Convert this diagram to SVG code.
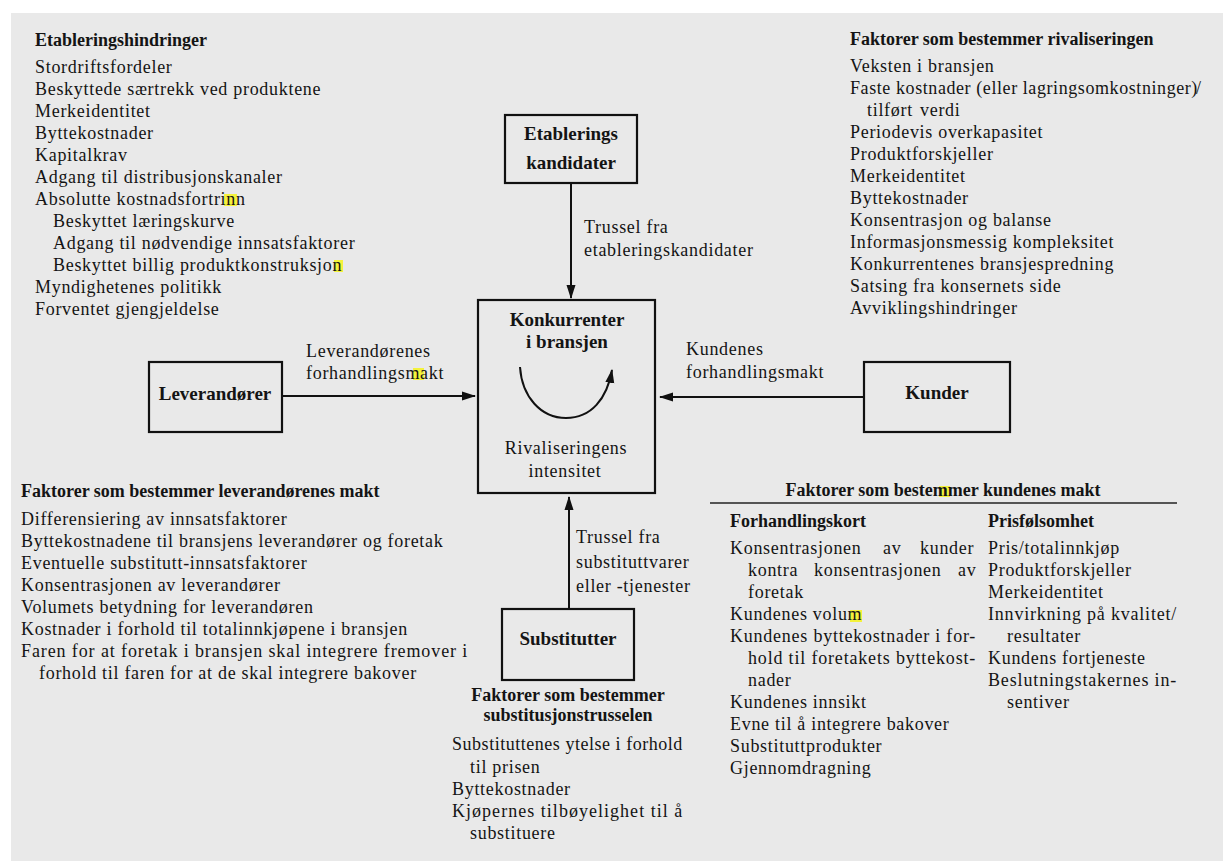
<svg xmlns="http://www.w3.org/2000/svg" width="1223" height="861" viewBox="0 0 1223 861">
  <style>
    text { font-family: "Liberation Serif", "Times New Roman", serif; fill: #141414; }
    .b { font-size: 18px; font-weight: bold; }
    .bx { font-size: 19px; font-weight: bold; text-anchor: middle; }
    .t { font-size: 18px; letter-spacing: 0.7px; }
    .c { text-anchor: middle; }
    .nl { font-variant-ligatures: none; font-kerning: none; }
    .box { fill: none; stroke: #111; stroke-width: 2.2; }
    .edge { fill: none; stroke: #111; stroke-width: 2; }
    .hl { fill: #f4f23c; }
  </style>
  <defs>
    <marker id="head" markerUnits="userSpaceOnUse" markerWidth="14" markerHeight="10" refX="13" refY="5" orient="auto">
      <path d="M0,0.5 L14,5 L0,9.5 z" fill="#111"/>
    </marker>
  </defs>

  <!-- page -->
  <rect x="0" y="0" width="1223" height="861" fill="#ffffff"/>
  <rect x="11" y="13" width="1212" height="848" fill="#e9e9e9"/>

  <!-- highlighted letters -->
  <rect class="hl" x="224" y="194" width="13" height="12"/>
  <rect class="hl" x="334" y="260" width="9" height="12"/>
  <rect class="hl" x="413" y="368" width="11" height="12"/>
  <rect class="hl" x="939" y="486" width="11" height="11"/>
  <rect class="hl" x="850" y="610" width="12" height="12"/>

  <!-- connectors -->
  <g id="connectors">
    <line class="edge" x1="571" y1="183" x2="571" y2="298" marker-end="url(#head)"/>
    <line class="edge" x1="282" y1="396" x2="475" y2="396" marker-end="url(#head)"/>
    <line class="edge" x1="864" y1="397" x2="660" y2="397" marker-end="url(#head)"/>
    <line class="edge" x1="569" y1="609" x2="569" y2="497" marker-end="url(#head)"/>
    <path class="edge" d="M520,367 C522,397 541,418 566,418 C591,418 607,399 612,370" marker-end="url(#head)"/>
  </g>

  <!-- new entrants -->
  <g id="etablerings">
    <rect class="box" x="505" y="115" width="132" height="68"/>
    <text class="bx" x="571" y="140">Etablerings</text>
    <text class="bx" x="571" y="169">kandidater</text>
  </g>
  <g id="label-etablering">
    <text class="t" x="584" y="233">Trussel fra</text>
    <text class="t" x="584" y="256">etableringskandidater</text>
  </g>

  <!-- industry competitors -->
  <g id="konkurrenter">
    <rect class="box" x="478" y="300" width="177" height="193"/>
    <text class="bx" x="567" y="326">Konkurrenter</text>
    <text class="bx" x="567" y="348">i bransjen</text>
    <text class="t c" x="566" y="454">Rivaliseringens</text>
    <text class="t c" x="565" y="477">intensitet</text>
  </g>

  <!-- suppliers -->
  <g id="leverandorer">
    <rect class="box" x="149" y="362" width="133" height="70"/>
    <text class="bx" x="215" y="400">Leverandører</text>
  </g>
  <g id="label-leverandorer">
    <text class="t" x="306" y="357">Leverandørenes</text>
    <text class="t" x="306" y="379">forhandlingsmakt</text>
  </g>

  <!-- buyers -->
  <g id="kunder">
    <rect class="box" x="864" y="362" width="146" height="70"/>
    <text class="bx" x="937" y="399">Kunder</text>
  </g>
  <g id="label-kunder">
    <text class="t" x="686" y="355">Kundenes</text>
    <text class="t" x="686" y="378">forhandlingsmakt</text>
  </g>

  <!-- substitutes -->
  <g id="substitutter">
    <rect class="box" x="502" y="609" width="132" height="71"/>
    <text class="bx" x="568" y="645">Substitutter</text>
  </g>
  <g id="label-substitutter">
    <text class="t" x="576" y="543">Trussel fra</text>
    <text class="t" x="576" y="568">substituttvarer</text>
    <text class="t" x="576" y="592">eller -tjenester</text>
  </g>

  <!-- barriers to entry -->
  <g id="etableringshindringer">
    <text class="b" x="35" y="46">Etableringshindringer</text>
    <text class="t" x="35" y="73">Stordriftsfordeler</text>
    <text class="t" x="35" y="95">Beskyttede særtrekk ved produktene</text>
    <text class="t" x="35" y="117">Merkeidentitet</text>
    <text class="t" x="35" y="139">Byttekostnader</text>
    <text class="t" x="35" y="161">Kapitalkrav</text>
    <text class="t" x="35" y="183">Adgang til distribusjonskanaler</text>
    <text class="t" x="35" y="205">Absolutte kostnadsfortrinn</text>
    <text class="t" x="53" y="227">Beskyttet læringskurve</text>
    <text class="t" x="53" y="249">Adgang til nødvendige innsatsfaktorer</text>
    <text class="t" x="53" y="271">Beskyttet billig produktkonstruksjon</text>
    <text class="t" x="35" y="293">Myndighetenes politikk</text>
    <text class="t" x="35" y="315">Forventet gjengjeldelse</text>
  </g>

  <!-- rivalry determinants -->
  <g id="rivalisering">
    <text class="b" x="850" y="45">Faktorer som bestemmer rivaliseringen</text>
    <text class="t" x="850" y="72">Veksten i bransjen</text>
    <text class="t" x="850" y="94" style="letter-spacing:0.58px">Faste kostnader (eller lagringsomkostninger)</text>
    <text class="t" x="1196" y="94">/</text>
    <text class="t nl" x="867" y="116">tilført</text>
    <text class="t" x="920" y="116">verdi</text>
    <text class="t" x="850" y="138">Periodevis overkapasitet</text>
    <text class="t" x="850" y="160">Produktforskjeller</text>
    <text class="t" x="850" y="182">Merkeidentitet</text>
    <text class="t" x="850" y="204">Byttekostnader</text>
    <text class="t" x="850" y="226">Konsentrasjon og balanse</text>
    <text class="t" x="850" y="248">Informasjonsmessig kompleksitet</text>
    <text class="t" x="850" y="270">Konkurrentenes bransjespredning</text>
    <text class="t" x="850" y="292">Satsing fra konsernets side</text>
    <text class="t" x="850" y="314">Avviklingshindringer</text>
  </g>

  <!-- supplier power determinants -->
  <g id="leverandormakt">
    <text class="b" x="21" y="497">Faktorer som bestemmer leverandørenes makt</text>
    <text class="t" x="21" y="525">Differensiering av innsatsfaktorer</text>
    <text class="t" x="21" y="547">Byttekostnadene til bransjens leverandører og foretak</text>
    <text class="t" x="21" y="569">Eventuelle substitutt-innsatsfaktorer</text>
    <text class="t" x="21" y="591">Konsentrasjonen av leverandører</text>
    <text class="t" x="21" y="613">Volumets betydning for leverandøren</text>
    <text class="t" x="21" y="635">Kostnader i forhold til totalinnkjøpene i bransjen</text>
    <text class="t" x="21" y="657" textLength="447" lengthAdjust="spacing">Faren for at foretak i bransjen skal integrere fremover i</text>
    <text class="t" x="39" y="679">forhold til faren for at de skal integrere bakover</text>
  </g>

  <!-- substitution threat determinants -->
  <g id="substitusjon">
    <text class="b c" x="568" y="701">Faktorer som bestemmer</text>
    <text class="b c" x="568" y="721">substitusjonstrusselen</text>
    <text class="t" x="452" y="750" textLength="231" lengthAdjust="spacing">Substituttenes ytelse i forhold</text>
    <text class="t" x="470" y="773">til prisen</text>
    <text class="t" x="452" y="795">Byttekostnader</text>
    <text class="t" x="452" y="817" textLength="231" lengthAdjust="spacing">Kjøpernes tilbøyelighet til å</text>
    <text class="t" x="470" y="839">substituere</text>
  </g>

  <!-- buyer power determinants -->
  <g id="kundemakt">
    <text class="b c" x="943" y="496">Faktorer som bestemmer kundenes makt</text>
    <line x1="710" y1="503" x2="1177" y2="503" stroke="#222" stroke-width="1.5"/>
    <text class="b" x="730" y="527">Forhandlingskort</text>
    <text class="b" x="988" y="527">Prisfølsomhet</text>

    <text class="t" y="554"><tspan x="730">Konsentrasjonen</tspan><tspan x="883">av</tspan><tspan x="920">kunder</tspan></text>
    <text class="t" y="576"><tspan x="748">kontra</tspan><tspan x="814">konsentrasjonen</tspan><tspan x="958">av</tspan></text>
    <text class="t" x="748" y="598">foretak</text>
    <text class="t" x="730" y="620">Kundenes volum</text>
    <text class="t" x="730" y="642" textLength="246" lengthAdjust="spacing">Kundenes byttekostnader i for-</text>
    <text class="t" x="748" y="664" textLength="228" lengthAdjust="spacing">hold til foretakets byttekost-</text>
    <text class="t" x="748" y="686">nader</text>
    <text class="t" x="730" y="708">Kundenes innsikt</text>
    <text class="t" x="730" y="730">Evne til å integrere bakover</text>
    <text class="t" x="730" y="752">Substituttprodukter</text>
    <text class="t" x="730" y="774">Gjennomdragning</text>

    <text class="t" x="988" y="554">Pris/totalinnkjøp</text>
    <text class="t" x="988" y="576">Produktforskjeller</text>
    <text class="t" x="988" y="598">Merkeidentitet</text>
    <text class="t" x="988" y="620" textLength="189" lengthAdjust="spacing">Innvirkning på kvalitet/</text>
    <text class="t" x="1007" y="642">resultater</text>
    <text class="t" x="988" y="664">Kundens fortjeneste</text>
    <text class="t" x="988" y="686" textLength="189" lengthAdjust="spacing">Beslutningstakernes in-</text>
    <text class="t" x="1007" y="708">sentiver</text>
  </g>
</svg>
